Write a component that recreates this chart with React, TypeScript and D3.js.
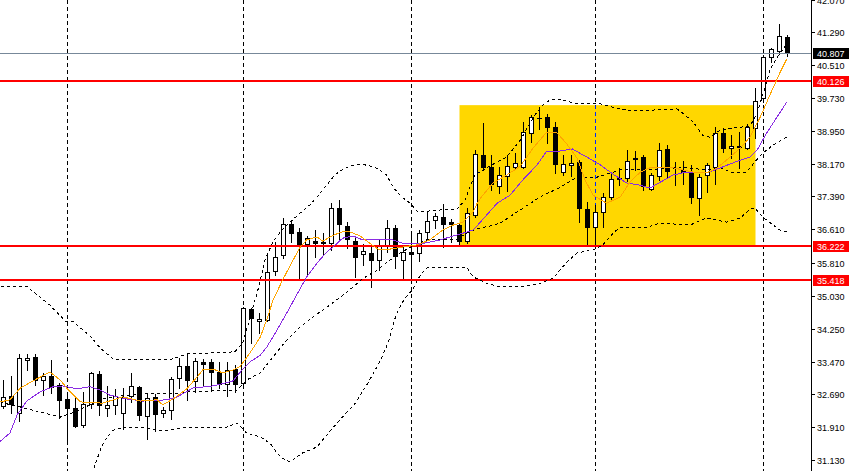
import React from 'react';
import * as d3 from 'd3';

// ---- candle data (price) ----
const opens = [
  32.41, 32.65, 32.25, 33.51, 33.58, 33.03, 33.13, 32.91, 32.58, 32.37,
  31.96, 32.46, 33.17, 32.37, 32.44, 32.25, 32.65, 32.86, 32.18, 32.63,
  32.25, 32.32, 33.08, 33.36, 33.01, 33.46, 33.46, 33.22, 32.94, 33.29,
  32.96, 34.72, 34.43, 34.46, 35.62, 36.0, 36.74, 36.55, 36.26, 36.33,
  36.31, 36.28, 37.12, 36.69, 36.33, 36.02, 36.05, 35.88, 36.21, 36.64,
  35.88, 36.07, 36.05, 36.55, 36.83, 36.9, 36.78, 36.71, 36.33, 36.95,
  38.37, 38.09, 37.64, 37.88, 38.09, 38.09, 38.9, 39.25, 39.28, 39.04,
  37.97, 38.14, 38.21, 37.09, 36.66, 37.02, 37.38, 37.83, 37.83, 38.3,
  38.33, 37.57, 37.88, 38.52, 38.07, 38.02, 37.95, 37.35, 37.9, 38.09,
  38.9, 38.54, 38.59, 38.54, 39.02, 39.73, 40.7, 40.85, 41.18,
];
const highs = [
  33.03, 33.13, 33.65, 33.65, 33.65, 33.2, 33.51, 32.96, 32.7, 32.63,
  32.75, 33.22, 33.24, 32.89, 32.82, 32.84, 33.2, 32.89, 32.7, 32.7,
  32.39, 33.1, 33.55, 33.67, 33.55, 33.53, 33.53, 33.46, 33.46, 33.39,
  34.76, 34.74, 34.62, 36.05, 36.31, 36.88, 36.83, 36.64, 36.45, 36.59,
  36.52, 37.23, 37.31, 36.78, 36.43, 36.26, 36.24, 36.36, 36.83, 36.71,
  36.24, 36.57, 36.59, 37.04, 37.0, 37.21, 36.85, 36.76, 37.12, 38.49,
  39.13, 38.37, 38.09, 38.37, 38.42, 39.16, 39.32, 39.51, 39.35, 39.16,
  38.37, 38.37, 38.26, 37.26, 37.19, 37.47, 37.97, 38.07, 38.49, 38.47,
  38.37, 37.95, 38.66, 38.61, 38.21, 38.23, 38.14, 37.92, 38.18, 39.04,
  39.02, 38.85, 38.92, 39.11, 39.97, 40.75, 40.92, 41.49, 41.23,
];
const lows = [
  32.37, 32.25, 32.06, 33.27, 32.91, 32.67, 32.72, 32.13, 31.56, 31.91,
  31.91, 32.37, 32.2, 32.18, 32.22, 31.87, 32.51, 32.08, 31.63, 31.82,
  32.15, 32.1, 32.84, 32.56, 32.75, 32.91, 32.79, 32.84, 32.65, 32.75,
  32.86, 33.91, 34.15, 34.43, 35.52, 35.93, 36.31, 35.45, 35.52, 35.95,
  36.0, 36.12, 36.36, 36.17, 35.48, 35.76, 35.24, 35.64, 36.07, 35.69,
  35.43, 35.45, 35.86, 36.36, 36.64, 36.19, 36.31, 36.24, 36.28, 36.9,
  38.02, 37.54, 37.47, 37.52, 38.07, 38.07, 38.68, 38.99, 38.66, 37.95,
  37.9, 37.88, 36.78, 36.21, 36.21, 36.66, 37.31, 37.66, 37.76, 38.02,
  37.54, 37.54, 37.78, 37.85, 37.66, 37.69, 37.23, 36.95, 37.5, 37.69,
  38.45, 38.3, 38.07, 38.52, 38.78, 39.63, 40.58, 40.77, 40.73,
];
const closes = [
  32.63, 32.46, 33.55, 33.55, 33.03, 33.13, 32.86, 32.56, 32.37, 31.94,
  32.46, 33.2, 32.44, 32.44, 32.65, 32.63, 32.89, 32.2, 32.6, 32.22,
  32.32, 33.05, 33.36, 33.03, 33.48, 33.41, 33.22, 32.94, 33.27, 32.94,
  34.74, 34.5, 34.48, 35.6, 35.95, 36.74, 36.52, 36.24, 36.4, 36.28,
  36.28, 37.12, 36.74, 36.38, 35.95, 36.09, 35.88, 36.21, 36.64, 35.98,
  36.07, 36.02, 36.52, 36.81, 36.93, 36.74, 36.74, 36.33, 37.0, 38.4,
  38.09, 37.69, 37.9, 38.11, 38.18, 38.92, 39.28, 39.26, 39.04, 38.16,
  38.16, 38.18, 37.12, 36.66, 37.02, 37.38, 37.8, 37.8, 38.23, 38.28,
  37.64, 37.9, 38.49, 37.99, 38.06, 37.97, 37.38, 37.85, 38.14, 38.9,
  38.54, 38.59, 38.56, 39.04, 39.66, 40.7, 40.89, 41.2, 40.807,
];

// ---- indicator lines: [bar index, price] ----
type Pt = [number, number];
const upperBand: Pt[] = [
  [-1.1, 35.26], [2.9, 35.26], [3.9, 35.1], [5.8, 34.81], [7.1, 34.55], [7.9, 34.41], [8.6, 34.43],
  [9.6, 34.27], [10.8, 34.08], [12.1, 33.79], [13.7, 33.53], [20.8, 33.51], [22.9, 33.65], [25.8, 33.67],
  [28.9, 33.7], [29.9, 33.91], [30.8, 34.5], [31.8, 35.17], [32.7, 35.88], [33.6, 36.28], [34.6, 36.55],
  [35.8, 36.78], [37.1, 37.0], [38.3, 37.19], [39.6, 37.47], [40.4, 37.66], [41.4, 37.9], [42.7, 38.07],
  [43.9, 38.14], [45.2, 38.14], [46.4, 38.09], [47.9, 37.9], [48.7, 37.61], [49.8, 37.38], [50.8, 37.23],
  [51.8, 37.02], [54.6, 37.07], [56.7, 37.09], [57.7, 37.31], [58.9, 37.9], [61.4, 38.18], [62.9, 38.33],
  [64.6, 38.73], [66.4, 39.32], [67.4, 39.56], [68.3, 39.68], [69.6, 39.7], [71.2, 39.61], [74.6, 39.59],
  [76.2, 39.51], [77.9, 39.44], [80.8, 39.44], [84.2, 39.47], [84.9, 39.37], [86.2, 39.16], [87.4, 38.85],
  [88.3, 38.8], [89.6, 38.97], [91.2, 39.02], [93.3, 39.06], [94.2, 39.37], [94.9, 39.8], [95.9, 40.44],
  [96.9, 40.75], [97.9, 41.02],
];
const middleBand: Pt[] = [
  [-1.1, 32.53], [2.1, 32.39], [4.6, 32.27], [7.1, 32.15], [8.9, 32.27], [10.8, 32.44], [12.4, 32.58],
  [14.6, 32.65], [17.4, 32.7], [20.8, 32.7], [23.3, 32.75], [29.2, 32.79], [30.4, 33.03], [32.1, 33.2],
  [33.7, 33.58], [35.4, 33.98], [37.1, 34.29], [38.7, 34.53], [40.8, 34.81], [42.1, 35.0], [43.7, 35.24],
  [45.0, 35.45], [46.7, 35.64], [48.3, 35.88], [49.6, 36.05], [50.9, 36.19], [52.1, 36.28], [52.9, 36.36],
  [56.7, 36.38], [57.9, 36.52], [59.2, 36.62], [60.8, 36.69], [62.1, 36.76], [64.6, 37.07], [67.1, 37.38],
  [69.6, 37.61], [71.7, 37.85], [74.2, 37.85], [77.1, 38.02], [80.8, 38.02], [84.6, 38.09], [87.9, 38.02],
  [89.6, 38.07], [91.2, 37.95], [92.9, 37.97], [93.9, 38.21], [94.9, 38.42], [96.2, 38.61], [97.9, 38.8],
];
const lowerBand: Pt[] = [
  [10.8, 30.66], [12.1, 31.37], [12.7, 31.61], [13.7, 31.84], [15.4, 31.91], [17.1, 31.91], [19.6, 31.82],
  [23.3, 31.91], [25.8, 31.89], [27.9, 31.91], [29.2, 32.01], [30.4, 31.77], [32.1, 31.68], [33.3, 31.53],
  [34.6, 31.2], [35.8, 31.08], [37.4, 31.3], [39.2, 31.44], [40.9, 31.84], [42.7, 32.22], [43.9, 32.46],
  [45.4, 32.91], [47.1, 33.48], [48.1, 33.93], [49.1, 34.6], [50.1, 34.95], [51.1, 35.17], [52.1, 35.52],
  [52.9, 35.69], [54.2, 35.71], [57.9, 35.71], [58.7, 35.48], [60.4, 35.33], [62.1, 35.24], [64.6, 35.24],
  [67.1, 35.33], [68.7, 35.45], [70.4, 35.83], [71.7, 36.05], [73.7, 36.12], [74.9, 36.24], [76.2, 36.52],
  [77.1, 36.66], [80.4, 36.66], [82.1, 36.76], [85.8, 36.71], [87.9, 36.88], [90.4, 36.78], [92.1, 36.88],
  [93.3, 37.09], [93.9, 37.12], [94.9, 36.9], [96.2, 36.71], [97.4, 36.55], [97.9, 36.55],
];
const fastMA: Pt[] = [
  [-1.1, 32.48], [0.8, 32.56], [2.1, 32.84], [3.7, 33.01], [5.8, 33.22], [7.1, 33.03], [7.9, 32.84],
  [9.6, 32.51], [12.4, 32.48], [14.9, 32.63], [17.1, 32.53], [19.2, 32.56], [19.9, 32.44], [21.2, 32.58],
  [22.9, 32.82], [24.2, 33.1], [24.9, 33.27], [26.2, 33.29], [27.4, 33.2], [28.7, 33.27], [29.6, 33.36],
  [30.8, 33.67], [32.1, 34.05], [32.9, 34.46], [33.7, 34.93], [34.9, 35.41], [36.2, 35.88], [37.1, 36.19],
  [37.9, 36.36], [39.2, 36.43], [39.9, 36.33], [41.2, 36.47], [42.4, 36.55], [43.3, 36.55], [44.6, 36.45],
  [45.8, 36.28], [46.8, 36.14], [48.3, 36.14], [49.9, 36.19], [51.7, 36.24], [53.3, 36.36], [54.9, 36.59],
  [56.2, 36.71], [57.4, 36.78], [58.7, 37.02], [59.2, 37.23], [59.9, 37.42], [61.2, 37.71], [62.9, 37.9],
  [64.6, 38.11], [66.2, 38.54], [67.9, 38.92], [69.2, 38.9], [70.4, 38.64], [71.7, 38.3], [72.7, 37.78],
  [73.7, 37.42], [75.4, 37.23], [77.1, 37.38], [78.3, 37.73], [79.6, 37.97], [80.8, 38.07], [83.7, 38.07],
  [86.2, 37.97], [87.9, 37.95], [89.2, 38.07], [90.4, 38.26], [92.1, 38.54], [93.3, 38.8], [94.6, 39.28],
  [95.8, 39.8], [97.1, 40.35], [97.9, 40.65],
];
const slowMA: Pt[] = [
  [-1.1, 31.46], [0.8, 31.77], [1.7, 32.2], [2.9, 32.53], [4.6, 32.75], [6.2, 32.87], [7.4, 32.89],
  [9.2, 32.82], [10.8, 32.87], [12.1, 32.79], [13.3, 32.67], [15.4, 32.58], [17.4, 32.53], [20.4, 32.56],
  [21.7, 32.63], [23.7, 32.84], [26.2, 32.89], [28.7, 33.01], [29.9, 33.29], [30.8, 33.46], [32.1, 33.62],
  [32.9, 33.81], [34.2, 34.22], [35.4, 34.62], [36.7, 35.07], [37.9, 35.48], [39.2, 35.81], [40.4, 36.07],
  [41.2, 36.19], [42.4, 36.4], [43.7, 36.45], [44.9, 36.36], [46.7, 36.36], [48.3, 36.38], [49.9, 36.28],
  [52.1, 36.26], [54.6, 36.36], [57.1, 36.5], [58.7, 36.59], [59.6, 36.78], [61.7, 37.23], [63.3, 37.42],
  [64.9, 37.78], [66.7, 38.14], [67.9, 38.47], [69.6, 38.47], [71.1, 38.52], [72.7, 38.35], [74.6, 38.14],
  [76.2, 37.92], [77.9, 37.71], [79.6, 37.66], [80.8, 37.59], [82.1, 37.73], [83.7, 37.9], [85.4, 37.97],
  [87.9, 37.95], [89.6, 38.07], [91.2, 38.19], [93.3, 38.33], [94.2, 38.49], [95.4, 38.9], [96.7, 39.28],
  [97.9, 39.63],
];

// ---- axis / annotations ----
const tickValues = [42.07, 41.29, 40.51, 39.73, 38.95, 38.17, 37.39, 36.61, 35.81, 35.03, 34.25, 33.47, 32.69, 31.91, 31.13];
const levelPrices = [40.126, 36.222, 35.418];
const bidPrice = 40.807;
const separatorBars = [8, 30, 51, 74, 95];
const zoneBars = [57, 94];
const zonePrices = [36.19, 39.56];

export default function App() {
  const W = 854;
  const H = 471;
  const axisX = 812;
  const n = opens.length;
  const x = d3.scaleLinear().domain([0, n - 1]).range([3.5, 787.5]);
  const y = d3.scaleLinear().domain([31.13, 42.07]).range([460, -0.5]);
  const fmt = d3.format('.3f');
  const crisp = (v: number) => Math.round(v) + 0.5;
  const line = d3.line<Pt>().x((d) => x(d[0])).y((d) => y(d[1]));

  const zx0 = x(zoneBars[0]);
  const zx1 = x(zoneBars[1]);
  const zy0 = y(zonePrices[1]);
  const zy1 = y(zonePrices[0]);

  const candles = opens.map((o, i) => {
    const c = closes[i];
    const cx = x(i);
    const yo = Math.round(y(o));
    const yc = Math.round(y(c));
    const top = Math.min(yo, yc);
    const bot = Math.max(yo, yc);
    const bull = c >= o;
    return (
      <g key={i}>
        <line x1={cx} x2={cx} y1={Math.round(y(highs[i]))} y2={Math.round(y(lows[i])) + 1} stroke="#000" strokeWidth={1} />
        {bot - top >= 1 ? (
          <rect x={cx - 2} y={top + 0.5} width={4} height={bot - top} fill={bull ? '#fff' : '#000'} stroke="#000" strokeWidth={1} />
        ) : (
          <line x1={cx - 2.5} x2={cx + 2.5} y1={top + 0.5} y2={top + 0.5} stroke="#000" strokeWidth={1} />
        )}
      </g>
    );
  });

  return (
    <svg
      width={W}
      height={H}
      style={{ position: 'absolute', left: 0, top: 0, background: '#fff' }}
      fontFamily="'Liberation Sans', Arial, sans-serif"
    >
      <defs>
        <clipPath id="plot">
          <rect x={0} y={0} width={axisX} height={H} />
        </clipPath>
        <clipPath id="zoneclip">
          <rect x={zx0} y={zy0} width={zx1 - zx0} height={zy1 - zy0} />
        </clipPath>
      </defs>
      <rect x={0} y={0} width={W} height={H} fill="#fff" />
      <g clipPath="url(#plot)">
        <rect x={zx0} y={zy0} width={zx1 - zx0} height={zy1 - zy0} fill="#FFD700" />
        {separatorBars.map((b) => (
          <line key={'s' + b} x1={x(b)} x2={x(b)} y1={0} y2={H} stroke="#000" strokeWidth={1} strokeDasharray="4,3" />
        ))}
        <g clipPath="url(#zoneclip)">
          {separatorBars.map((b) => (
            <line key={'sz' + b} x1={x(b)} x2={x(b)} y1={0} y2={H} stroke="rgb(0,40,255)" strokeWidth={1} strokeDasharray="4,3" />
          ))}
        </g>
        {candles}
        {levelPrices.map((p) => (
          <line key={'l' + p} x1={0} x2={axisX} y1={Math.round(y(p))} y2={Math.round(y(p))} stroke="#ff0000" strokeWidth={2} />
        ))}
        <line x1={0} x2={axisX} y1={crisp(y(bidPrice))} y2={crisp(y(bidPrice))} stroke="#778899" strokeWidth={1} />
        {[upperBand, middleBand, lowerBand].map((pts, k) => (
          <path key={'b' + k} d={line(pts) || ''} fill="none" stroke="#000" strokeWidth={1} strokeDasharray="3,3" shapeRendering="crispEdges" />
        ))}
        <path d={line(slowMA) || ''} fill="none" stroke="#8A2BE2" strokeWidth={1} shapeRendering="crispEdges" />
        <path d={line(fastMA) || ''} fill="none" stroke="#FFA500" strokeWidth={1} shapeRendering="crispEdges" />
      </g>
      <line x1={axisX - 0.5} x2={axisX - 0.5} y1={0} y2={H} stroke="#000" strokeWidth={1} />
      {tickValues.map((v) => {
        const ty = crisp(y(v));
        return (
          <g key={'t' + v}>
            <line x1={axisX} x2={axisX + 3} y1={ty} y2={ty} stroke="#000" strokeWidth={1} />
            <text x={817} y={ty + 3.5} fontSize={9} fill="#000">
              {fmt(v)}
            </text>
          </g>
        );
      })}
      {[bidPrice, ...levelPrices].map((p, k) => {
        const ly = y(p);
        return (
          <g key={'h' + k}>
            <rect x={813} y={Math.round(ly) - 5} width={36} height={11} fill={k === 0 ? '#000' : '#ff0000'} />
            <text x={817} y={Math.round(ly) + 3.5} fontSize={9} fill="#fff">
              {fmt(p)}
            </text>
          </g>
        );
      })}
    </svg>
  );
}
